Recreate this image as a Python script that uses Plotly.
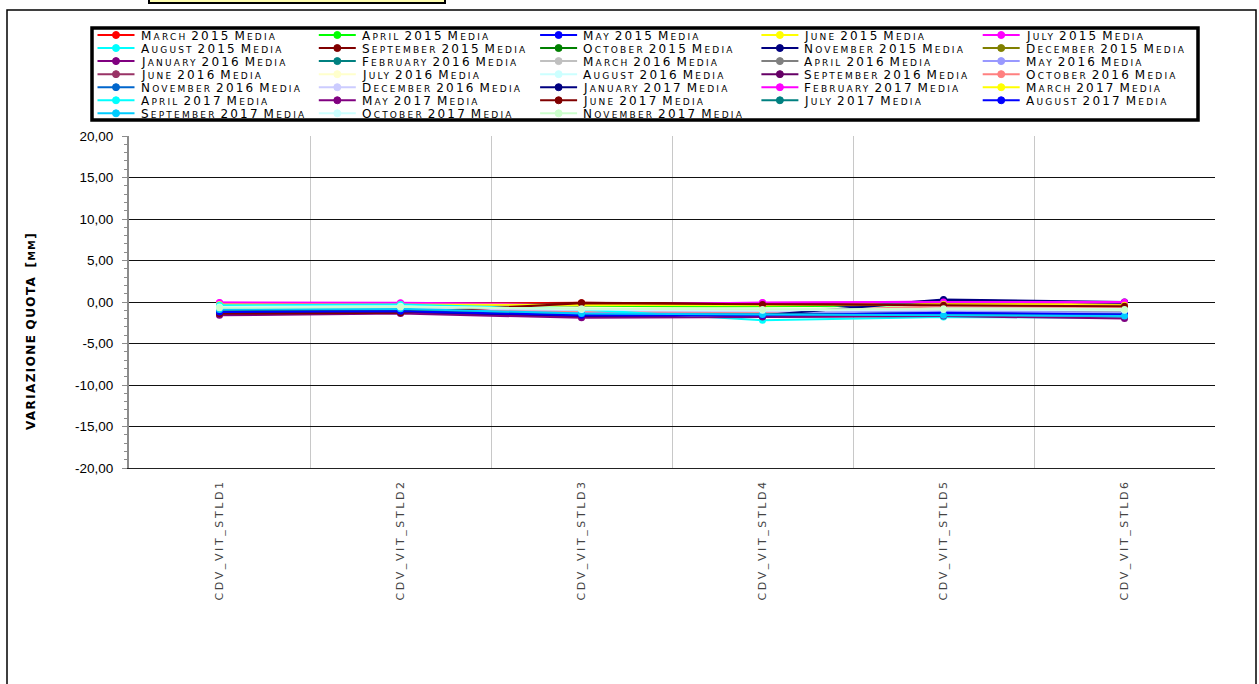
import plotly.graph_objects as go

# ---------------- data ----------------
categories = ["CDV_VIT_STLD1", "CDV_VIT_STLD2", "CDV_VIT_STLD3",
              "CDV_VIT_STLD4", "CDV_VIT_STLD5", "CDV_VIT_STLD6"]

series_names = [
    "March 2015 Media", "April 2015 Media", "May 2015 Media", "June 2015 Media", "July 2015 Media",
    "August 2015 Media", "September 2015 Media", "October 2015 Media", "November 2015 Media", "December 2015 Media",
    "January 2016 Media", "February 2016 Media", "March 2016 Media", "April 2016 Media", "May 2016 Media",
    "June 2016 Media", "July 2016 Media", "August 2016 Media", "September 2016 Media", "October 2016 Media",
    "November 2016 Media", "December 2016 Media", "January 2017 Media", "February 2017 Media", "March 2017 Media",
    "April 2017 Media", "May 2017 Media", "June 2017 Media", "July 2017 Media", "August 2017 Media",
    "September 2017 Media", "October 2017 Media", "November 2017 Media",
]

series_colors = [
    "#FF0000", "#00FF00", "#0000FF", "#FFFF00", "#FF00FF",
    "#00FFFF", "#800000", "#008000", "#000080", "#808000",
    "#800080", "#008080", "#C0C0C0", "#808080", "#9999FF",
    "#993366", "#FFFFCC", "#CCFFFF", "#660066", "#FF8080",
    "#0066CC", "#CCCCFF", "#000080", "#FF00FF", "#FFFF00",
    "#00FFFF", "#800080", "#800000", "#008080", "#0000FF",
    "#00CCFF", "#CCFFFF", "#CCFFCC",
]

series_values = [
    [-0.30, -0.20, -0.10, -0.30, -0.20, -0.30],
    [-0.50, -0.40, -0.60, -0.50, -0.40, -0.50],
    [-1.10, -0.90, -1.40, -1.50, -1.20, -1.40],
    [-0.25, -0.30, -0.40, -0.30, -0.20, -0.30],
    [-0.05, -0.10, -0.30, -0.10, 0.05, -0.05],
    [-0.60, -0.50, -0.90, -1.00, -0.80, -0.90],
    [-0.80, -0.70, -0.10, -0.20, -0.30, -0.40],
    [-0.70, -0.60, -0.80, -0.90, -0.70, -0.80],
    [-1.20, -1.00, -1.50, -1.40, 0.30, 0.00],
    [-0.90, -0.80, -1.00, -1.10, -1.00, -1.10],
    [-1.50, -1.30, -1.70, -1.60, -1.40, -1.80],
    [-1.00, -0.90, -1.30, -1.40, -1.30, -1.40],
    [-0.70, -0.60, -0.90, -1.00, -0.90, -1.00],
    [-0.80, -0.70, -1.00, -1.10, -1.10, -1.20],
    [-1.00, -0.80, -1.20, -1.30, -1.10, -1.30],
    [-1.30, -1.20, -1.60, -1.70, -1.50, -1.60],
    [-0.50, -0.40, -0.70, -0.80, -0.60, -0.70],
    [-0.60, -0.50, -0.80, -0.90, -0.70, -0.80],
    [-1.40, -1.20, -1.80, -1.80, -1.60, -1.70],
    [-0.90, -0.80, -1.10, -1.20, -0.50, -0.60],
    [-1.20, -1.10, -1.60, -1.70, -1.50, -1.60],
    [-0.80, -0.70, -1.00, -1.10, -0.90, -1.00],
    [-1.30, -1.20, -1.70, -1.60, 0.20, -0.10],
    [-0.10, -0.15, -0.40, -0.05, 0.00, 0.00],
    [-0.30, -0.30, -0.35, -0.40, -0.30, -0.40],
    [-0.40, -0.30, -0.90, -2.20, -1.80, -1.90],
    [-1.60, -1.40, -1.90, -1.80, -1.70, -2.00],
    [-1.40, -1.30, -0.15, -0.30, -0.40, -0.50],
    [-1.10, -1.00, -1.50, -1.50, -1.40, -1.50],
    [-1.20, -1.10, -1.60, -1.60, -1.30, -1.50],
    [-0.90, -0.80, -1.40, -1.50, -1.60, -1.70],
    [-0.60, -0.50, -0.90, -1.00, -0.90, -1.00],
    [-0.70, -0.60, -0.80, -0.90, -0.80, -0.90],
]

y_tick_values = [-20, -15, -10, -5, 0, 5, 10, 15, 20]
y_tick_labels = ["-20,00", "-15,00", "-10,00", "-5,00", "0,00", "5,00", "10,00", "15,00", "20,00"]

y_title = "VARIAZIONE QUOTA  [mm]"

# ---------------- layout geometry (pixels) ----------------
W, H = 1259, 684
PL, PR, PT, PB = 129, 1215, 136, 468


def px(x):
    return (x - PL) / (PR - PL)


def py(y):
    return (PB - y) / (PB - PT)


def span(t, size, spacing, bold):
    w = "font-weight:bold;" if bold else ""
    return f"<span style='{w}font-size:{size}px;letter-spacing:{spacing}px'>{t}</span>"


def smallcaps(text, big, small, spacing, bold=False):
    """Uppercase letters/digits/punctuation at full size, lowercase shown as small capitals."""
    out = []
    for word in text.split(" "):
        if word == "":
            out.append("")
            continue
        piece = ""
        buf = ""
        mode = None
        for ch in word:
            m = "small" if ch.islower() else "big"
            if mode is not None and m != mode:
                piece += span(buf.upper(), big if mode == "big" else small, spacing, bold)
                buf = ""
            mode = m
            buf += ch
        if buf:
            piece += span(buf.upper(), big if mode == "big" else small, spacing, bold)
        out.append(piece)
    return " ".join(out)


fig = go.Figure()

for name, color, vals in zip(series_names, series_colors, series_values):
    fig.add_trace(go.Scatter(
        x=categories, y=vals, name=name, mode="lines+markers",
        line=dict(color=color, width=2),
        marker=dict(color=color, size=7, symbol="circle"),
        showlegend=False,
    ))

shapes = []
annotations = []

# outer frame
shapes.append(dict(type="rect", xref="paper", yref="paper",
                   x0=px(7), x1=px(1256), y0=py(10), y1=py(720),
                   line=dict(color="#000000", width=1.5), fillcolor="rgba(0,0,0,0)", layer="below"))
# yellow title box (cut at top)
shapes.append(dict(type="rect", xref="paper", yref="paper",
                   x0=px(149), x1=px(445), y0=py(-10), y1=py(3),
                   line=dict(color="#000000", width=2), fillcolor="#FFFFB0"))
# legend box
shapes.append(dict(type="rect", xref="paper", yref="paper",
                   x0=px(92), x1=px(1198), y0=py(28), y1=py(120),
                   line=dict(color="#000000", width=3.5), fillcolor="#FFFFFF"))

# legend entries
ncol = 5
col_x0 = 97.5
col_step = 221.3
row_y0 = 35.0
row_step = 13.05
for i, (name, color) in enumerate(zip(series_names, series_colors)):
    r, c = divmod(i, ncol)
    x0 = col_x0 + c * col_step
    yc = row_y0 + r * row_step
    shapes.append(dict(type="line", xref="paper", yref="paper",
                       x0=px(x0), x1=px(x0 + 37), y0=py(yc), y1=py(yc),
                       line=dict(color=color, width=2)))
    shapes.append(dict(type="circle", xref="paper", yref="paper",
                       xsizemode="pixel", ysizemode="pixel",
                       xanchor=px(x0 + 18.5), yanchor=py(yc),
                       x0=-3.5, x1=3.5, y0=-3.5, y1=3.5,
                       line=dict(color=color, width=1), fillcolor=color))
    annotations.append(dict(xref="paper", yref="paper", x=px(x0 + 41), y=py(yc + 0.5),
                            xanchor="left", yanchor="middle", showarrow=False,
                            text=smallcaps(name, 12, 9, 2.2),
                            font=dict(family="DejaVu Sans", size=12, color="#000000")))

# y-axis title
annotations.append(dict(xref="paper", yref="paper", x=px(31), y=py(331),
                        xanchor="center", yanchor="middle", showarrow=False, textangle=-90,
                        text=smallcaps(y_title, 12, 9.5, 1.4, bold=True),
                        font=dict(family="DejaVu Sans", size=12, color="#000000", weight="bold")))

tick_text = [f"<span style='letter-spacing:2.6px'>{c}</span>" for c in categories]

fig.update_layout(
    width=W, height=H,
    margin=dict(l=PL, r=W - PR, t=PT, b=H - PB, pad=0),
    paper_bgcolor="#FFFFFF", plot_bgcolor="#FFFFFF",
    showlegend=False,
    shapes=shapes,
    annotations=annotations,
    xaxis=dict(
        type="category", categoryorder="array", categoryarray=categories,
        tickvals=categories, ticktext=tick_text,
        tickangle=-90, tickson="boundaries", ticks="",
        showgrid=True, gridcolor="#C8C8C8", gridwidth=1,
        showline=True, linecolor="#222222", linewidth=1,
        tickfont=dict(family="DejaVu Sans", size=11, color="#444444"),
        ticklabelstandoff=6,
        range=[-0.5, 5.5],
    ),
    yaxis=dict(
        range=[-20, 20], tickvals=y_tick_values, ticktext=y_tick_labels,
        showgrid=True, gridcolor="#111111", gridwidth=1,
        zeroline=False,
        showline=True, linecolor="#8C8C8C", linewidth=2,
        ticks="outside", ticklen=5, tickcolor="#8C8C8C", tickwidth=1,
        minor=dict(dtick=1, ticks="outside", ticklen=3, tickcolor="#8C8C8C", showgrid=False),
        tickfont=dict(family="Liberation Sans", size=13.5, color="#000000"),
        ticklabelstandoff=6,
    ),
)

fig.write_html(
    "out.html",
    config={"displayModeBar": False},
    post_script="document.body.style.margin='0px';document.body.style.overflow='hidden';",
)
